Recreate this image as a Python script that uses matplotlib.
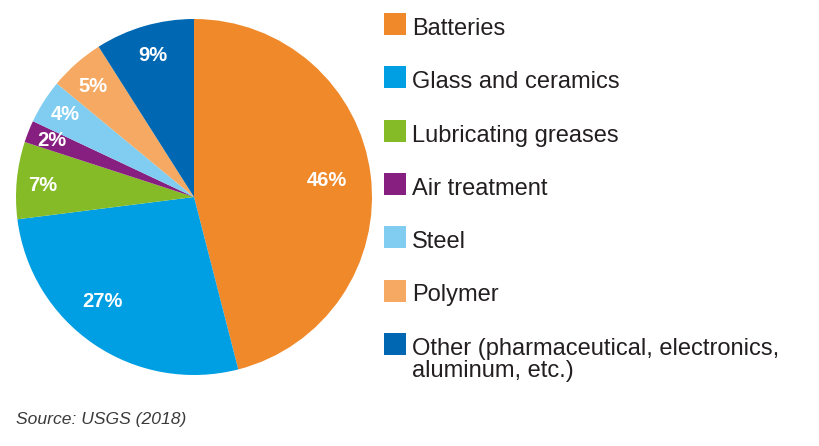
import numpy as np
import matplotlib
matplotlib.use('Agg')
import matplotlib.pyplot as plt
from matplotlib.patches import Rectangle

plt.rcParams['font.family'] = ['Liberation Sans', 'DejaVu Sans']

# data
categories = ['Batteries', 'Glass and ceramics', 'Lubricating greases', 'Air treatment',
              'Steel', 'Polymer', 'Other (pharmaceutical, electronics,\naluminum, etc.)']
shares = [46, 27, 7, 2, 4, 5, 9]
colors = ['#F0892A', '#009EE2', '#84BB26', '#871F80', '#80CDF1', '#F6A962', '#0068B2']

W, H = 819, 446
fig = plt.figure(figsize=(W / 100, H / 100), dpi=100)

def fx(x):
    return x / W

def fy(y):
    return 1 - y / H

# pie: centre (194, 197), radius 178 px
cx, cy, R = 194, 197, 178
ax = fig.add_axes([fx(cx - R), fy(cy + R), 2 * R / W, 2 * R / H])
wedges, texts, autotexts = ax.pie(shares, colors=colors, startangle=90, counterclock=False,
                                  autopct=lambda p: '%.0f%%' % p,
                                  wedgeprops=dict(linewidth=0),
                                  textprops=dict(color='white', fontsize=14.5, fontweight='bold'))
ax.set_xlim(-1, 1)
ax.set_ylim(-1, 1)

# label placement per wedge: distance from centre and small angle nudge (deg)
label_r = [0.75, 0.78, 0.85, 0.86, 0.86, 0.84, 0.83]
label_da = [0, -7, 1, 0, 0, 1, 0]
for w, t, r, da in zip(wedges, autotexts, label_r, label_da):
    ang = np.deg2rad((w.theta1 + w.theta2) / 2 + da)
    t.set_position((r * np.cos(ang), r * np.sin(ang)))
    t.set_ha('center')
    t.set_va('center')

# legend drawn by hand
top0, step, sq, line_h = 13, 53.3, 22, 22
for i, (lab, col) in enumerate(zip(categories, colors)):
    ytop = top0 + i * step
    fig.patches.append(Rectangle((fx(384), fy(ytop + sq)), sq / W, sq / H,
                                 transform=fig.transFigure, facecolor=col, edgecolor='none'))
    for k, line in enumerate(lab.split('\n')):
        fig.text(fx(412), fy(ytop + sq + k * line_h), line, fontsize=17, color='#231F20',
                 ha='left', va='baseline')

fig.text(fx(16), fy(424), 'Source: USGS (2018)', fontsize=12.6, style='italic',
         color='#3A3A3A', ha='left', va='baseline')

fig.savefig('out.png', dpi=100)
